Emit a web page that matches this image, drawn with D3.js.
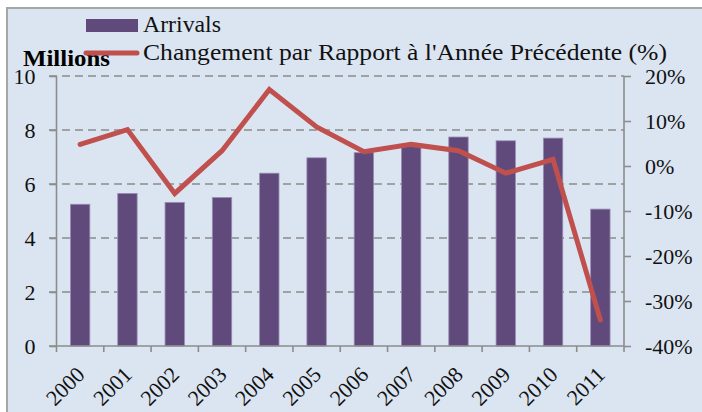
<!DOCTYPE html>
<html><head><meta charset="utf-8">
<script src="https://cdn.jsdelivr.net/npm/d3@7"></script>
<style>html,body{margin:0;padding:0;background:#fff;overflow:hidden}
svg text{font-family:"Liberation Serif","Times New Roman",Times,serif;}</style>
</head><body>
<svg id="c" width="702" height="412"></svg>
<script>
const years = ["2000","2001","2002","2003","2004","2005","2006","2007","2008","2009","2010","2011"];
const arrivals = [5.25,5.65,5.32,5.5,6.4,6.97,7.16,7.45,7.74,7.6,7.7,5.07];
const change = [4.8,8.1,-6.1,3.4,17.0,8.7,3.2,4.8,3.4,-1.6,1.5,-34.2];
const leftTicks = [0,2,4,6,8,10];
const rightTicks = [-40,-30,-20,-10,0,10,20];
const legendLabels = ["Arrivals","Changement par Rapport à l'Année Précédente (%)"];

const svg = d3.select("#c");
const font = "Liberation Serif";
const L = 56.5, R = 624, T = 76, B = 346;

svg.append("rect").attr("x",7).attr("y",8).attr("width",710).attr("height",420)
  .attr("fill","#dbe5f1").attr("stroke","#a6a6a6").attr("stroke-width",2);

const x = d3.scaleBand().domain(years).range([L,R]).paddingInner(0.59).paddingOuter(0.295);
const xb = d3.scaleBand().domain(years).range([L,R]);
const y = d3.scaleLinear().domain([0,10]).range([B,T]);
const y2 = d3.scaleLinear().domain([-40,20]).range([B,T]);

// gridlines
svg.append("g").selectAll("line").data(leftTicks.filter(d=>d>0)).join("line")
  .attr("x1",49).attr("x2",R).attr("y1",d=>y(d)).attr("y2",d=>y(d))
  .attr("stroke","#8c8c8c").attr("stroke-width",1.6).attr("stroke-dasharray","8,5");

// bars
svg.append("g").selectAll("rect").data(years).join("rect")
  .attr("x",d=>x(d)).attr("width",x.bandwidth())
  .attr("y",(d,i)=>y(arrivals[i])).attr("height",(d,i)=>B-y(arrivals[i]))
  .attr("fill","#604a7b").attr("stroke","#9a8db5").attr("stroke-width",0.8);

// left axis
const gl = svg.append("g").attr("transform",`translate(${L},0)`)
  .call(d3.axisLeft(y).tickValues(leftTicks).tickSize(7).tickPadding(14).tickFormat(d3.format("d")));
gl.attr("font-family",null);
gl.select(".domain").attr("stroke","#8c8c8c").attr("stroke-width",1.6).attr("d",`M0,${T}V${B}`);
gl.selectAll(".tick line").attr("stroke","#8c8c8c").attr("stroke-width",1.6);
gl.selectAll("text").attr("font-size",22).attr("fill","#111");

// right axis
const gr = svg.append("g").attr("transform",`translate(${R},0)`)
  .call(d3.axisRight(y2).tickValues(rightTicks).tickSize(7).tickPadding(14).tickFormat(d=>d+"%"));
gr.attr("font-family",null);
gr.select(".domain").attr("stroke","#8c8c8c").attr("stroke-width",1.6).attr("d",`M0,${T}V${B}`);
gr.selectAll(".tick line").attr("stroke","#8c8c8c").attr("stroke-width",1.6);
gr.selectAll("text").attr("font-size",22).attr("fill","#111");

// bottom axis
svg.append("line").attr("x1",49).attr("x2",R).attr("y1",B).attr("y2",B)
  .attr("stroke","#8c8c8c").attr("stroke-width",1.6);
svg.append("g").selectAll("line").data(years.concat(["end"])).join("line")
  .attr("x1",(d,i)=>L+i*xb.bandwidth()).attr("x2",(d,i)=>L+i*xb.bandwidth())
  .attr("y1",B).attr("y2",B+6).attr("stroke","#8c8c8c").attr("stroke-width",1.6);
svg.append("g").selectAll("text").data(years).join("text")
  .attr("transform",d=>`translate(${xb(d)+xb.bandwidth()/2-5},${B+19}) rotate(-45)`)
  .attr("text-anchor","end").attr("dy","0.7em")
  .attr("font-size",22).attr("fill","#111").text(d=>d);

// line
const line = d3.line().x((d,i)=>xb(years[i])+xb.bandwidth()/2).y(d=>y2(d));
svg.append("path").datum(change).attr("d",line).attr("fill","none")
  .attr("stroke","#c0504d").attr("stroke-width",5).attr("stroke-linejoin","miter").attr("stroke-linecap","round");

// Millions
svg.append("text").attr("x",23).attr("y",66).attr("font-weight","bold")
  .attr("font-size",23).attr("textLength",87).attr("lengthAdjust","spacingAndGlyphs")
  .attr("fill","#000").text("Millions");

// legend
svg.append("rect").attr("x",86).attr("y",19).attr("width",52).attr("height",13).attr("fill","#604a7b");
svg.append("text").attr("x",143).attr("y",32).attr("font-size",23)
  .attr("textLength",78).attr("lengthAdjust","spacingAndGlyphs").attr("fill","#111").text(legendLabels[0]);
svg.append("line").attr("x1",86).attr("x2",137).attr("y1",53).attr("y2",53)
  .attr("stroke","#c0504d").attr("stroke-width",5).attr("stroke-linecap","round");
svg.append("text").attr("x",143).attr("y",60).attr("font-size",23)
  .attr("textLength",524).attr("lengthAdjust","spacingAndGlyphs").attr("fill","#111").text(legendLabels[1]);
</script>
</body></html>
